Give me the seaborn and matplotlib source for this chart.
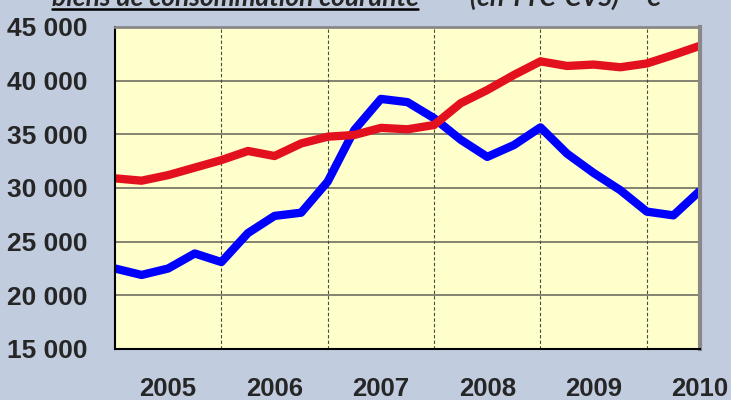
import numpy as np
import pandas as pd
import matplotlib
matplotlib.use('Agg')
import matplotlib.pyplot as plt
import seaborn as sns
from matplotlib.lines import Line2D
from matplotlib.ticker import FuncFormatter, FixedLocator

# trimestres 2005T1 -> 2010T3
quarters = [2005 + i * 0.25 for i in range(23)]

blue_values = [22500, 21900, 22500, 23900, 23100, 25800, 27400, 27700, 30600,
               35400, 38300, 38000, 36500, 34500, 32900, 34000, 35650,
               33200, 31400, 29800, 27800, 27450, 29750]
red_values = [30900, 30680, 31200, 31900, 32600, 33450, 32980, 34150, 34780,
              34940, 35600, 35470, 35870, 37900, 39130, 40530, 41800,
              41370, 41500, 41250, 41600, 42400, 43250]

year_ticks = [2005, 2006, 2007, 2008, 2009, 2010]
year_labels = ['2005', '2006', '2007', '2008', '2009', '2010']
y_ticks = [15000, 20000, 25000, 30000, 35000, 40000, 45000]

title_left = 'biens de consommation courante'
title_right = '(en TTC-CVS) – €'

df = pd.DataFrame({
    'date': quarters * 2,
    'valeur': blue_values + red_values,
    'serie': ['bleu'] * len(quarters) + ['rouge'] * len(quarters),
})

sns.set_style('white')
plt.rcParams['font.family'] = ['Liberation Sans', 'DejaVu Sans']

fig = plt.figure(figsize=(7.31, 4.00), dpi=100)
fig.patch.set_facecolor('#C1CCDF')
ax = fig.add_axes([0.1573, 0.1275, 0.8003, 0.805])
ax.set_facecolor('#FFFFCC')

sns.lineplot(data=df, x='date', y='valeur', hue='serie',
             palette={'bleu': '#0000FF', 'rouge': '#E3101E'},
             linewidth=6, sort=False, legend=False, ax=ax,
             solid_joinstyle='round', solid_capstyle='butt')

ax.set_xlim(2005, 2010.5)
ax.set_ylim(15000, 45000)
ax.set_xlabel('')
ax.set_ylabel('')

# grille horizontale pleine, verticale pointillée
for v in y_ticks[1:-1]:
    ax.axhline(v, color='#6E6E60', linewidth=1.2, zorder=1)
for yr in year_ticks[1:]:
    ax.axvline(yr, color='#4A4A40', linewidth=0.8, linestyle=(0, (3, 2)), zorder=1)

ax.set_yticks(y_ticks)
ax.yaxis.set_major_formatter(FuncFormatter(lambda v, p: f'{int(v):,}'.replace(',', ' ')))
ax.tick_params(axis='y', direction='out', length=7, width=1.2, color='#555555',
               pad=13, labelsize=19)

ax.xaxis.set_major_locator(FixedLocator(year_ticks))
ax.xaxis.set_minor_locator(FixedLocator([y + 0.5 for y in year_ticks]))
ax.xaxis.set_major_formatter(FuncFormatter(lambda v, p: ''))
ax.set_xticklabels(year_labels, minor=True)
ax.tick_params(axis='x', which='major', direction='out', length=8, width=1, color='#333333')
ax.tick_params(axis='x', which='minor', length=0, pad=20, labelsize=18.5)

for lab in ax.get_yticklabels() + ax.get_xticklabels(minor=True):
    lab.set_fontweight('bold')

for s in ['left', 'bottom']:
    ax.spines[s].set_color('black')
    ax.spines[s].set_linewidth(1.5)
ax.spines['top'].set_color('#888888')
ax.spines['top'].set_linewidth(2)
ax.spines['right'].set_color('#888888')
ax.spines['right'].set_linewidth(3)

# titre coupé en haut de l'image
fig.text(52 / 731, 1 - 6 / 400, title_left, fontsize=19, fontweight='bold',
         fontstyle='italic', family=['Lato', 'DejaVu Sans'], va='baseline', ha='left')
fig.add_artist(Line2D([52 / 731, 418 / 731], [1 - 9 / 400, 1 - 9 / 400],
                      color='black', linewidth=1.8, transform=fig.transFigure))
fig.text(470 / 731, 1 - 6 / 400, title_right, fontsize=19, fontweight='bold',
         fontstyle='italic', family=['Lato', 'DejaVu Sans'], va='baseline', ha='left')

plt.savefig('out.png', dpi=100, facecolor=fig.get_facecolor())
plt.close()
